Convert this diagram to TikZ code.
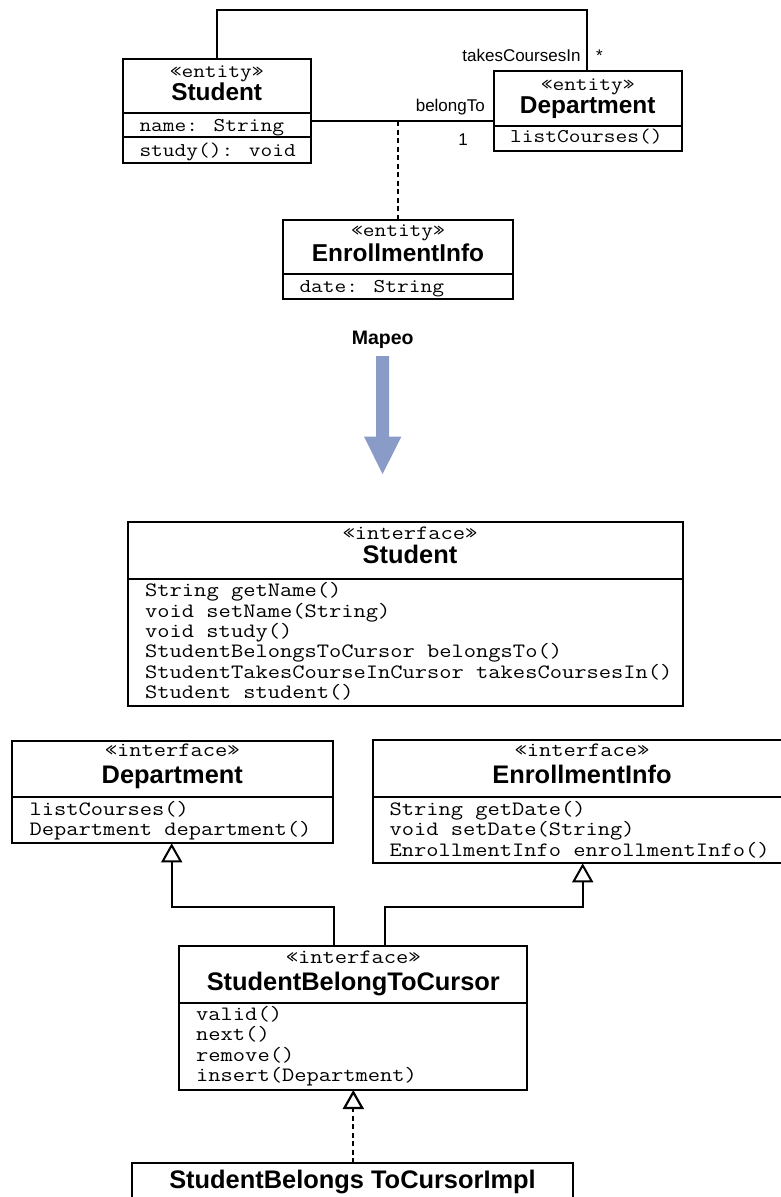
\documentclass[tikz,border=0pt]{standalone}
\usepackage{fontspec}
\setmainfont{Liberation Sans}
\newfontfamily\monof[FakeStretch=1.167]{Latin Modern Mono}
\usetikzlibrary{arrows.meta}
\definecolor{mapblue}{RGB}{137,155,198}
\begin{document}
\begin{tikzpicture}[x=1pt,y=-1pt,
  box/.style={draw, line width=2.2pt, inner sep=0pt, outer sep=0pt, anchor=north west},
  div/.style={line width=2.2pt},
  conn/.style={line width=2pt},
  dashconn/.style={line width=2.2pt, dash pattern=on 5pt off 3.5pt},
  gen/.style={conn, line join=miter, -{Triangle[fill=white, length=19pt, width=21pt]}},
  real/.style={dashconn, -{Triangle[fill=white, length=19pt, width=21pt]}},
  stE/.style={font={\monof\fontsize{19.5}{20}\selectfont}, anchor=base, inner sep=0pt},
  memE/.style={font={\monof\fontsize{19.5}{20}\selectfont}, anchor=base west, inner sep=0pt},
  titE/.style={font={\bfseries\fontsize{24.4}{26}\selectfont}, anchor=base, inner sep=0pt},
  stI/.style={font={\monof\fontsize{20.4}{21}\selectfont}, anchor=base, inner sep=0pt},
  memI/.style={font={\monof\fontsize{20.4}{21}\selectfont}, anchor=base west, inner sep=0pt},
  titI/.style={font={\bfseries\fontsize{25.4}{27}\selectfont}, anchor=base, inner sep=0pt},
  lbl/.style={font={\fontsize{17}{18}\selectfont}, inner sep=0pt}]
\useasboundingbox (0,0) rectangle (781,1197);
\clip (0,0) rectangle (781,1197);
\fill[white] (0,0) rectangle (781,1197);

% ---------- Entity model ----------
\node[box, minimum width=188pt, minimum height=104pt] (stuE) at (122.7,59.3) {};
\draw[div] (stuE.west |- 0,113.3) -- (stuE.east |- 0,113.3);
\draw[div] (stuE.west |- 0,137.3) -- (stuE.east |- 0,137.3);
\node[stE] (stuEst) at (216.7,77) {«entity»};
\node[titE] (stuEt) at (216.7,100.7) {Student};
\node[memE] (stuEa) at (139.3,131.7) {name: String};
\node[memE] (stuEm) at (139.3,156.7) {study(): void};

\node[box, minimum width=188pt, minimum height=79.7pt] (depE) at (493.7,71.3) {};
\draw[div] (depE.west |- 0,126) -- (depE.east |- 0,126);
\node[stE] (depEst) at (587.7,90) {«entity»};
\node[titE] (depEt) at (587.7,113.3) {Department};
\node[memE] (depEm) at (510,142.7) {listCourses()};

\node[box, minimum width=230.6pt, minimum height=79.3pt] (enE) at (282.7,220) {};
\draw[div] (enE.west |- 0,274) -- (enE.east |- 0,274);
\node[stE] (enEst) at (398,236.7) {«entity»};
\node[titE] (enEt) at (398,261.7) {EnrollmentInfo};
\node[memE] (enEa) at (299.3,292) {date: String};

% associations
\draw[conn] (stuE.north -| 216.7,0) -- (216.7,10) -- (587.3,10) -- (depE.north -| 587.3,0);
\draw[conn] (stuE.east |- 0,121) -- (depE.west |- 0,121);
\coordinate (assoc) at (398.3,121);
\draw[dashconn] (assoc) -- (enE.north -| assoc);
\node[lbl, anchor=base east] (lTakes) at (580.7,61.7) {takesCoursesIn};
\node[lbl, anchor=base west] (lStar) at (596,61.7) {*};
\node[lbl, anchor=base east] (lBelong) at (485,111) {belongTo};
\node[lbl, anchor=base] (lOne) at (463,145.7) {1};

% ---------- Mapping arrow ----------
\node[font={\bfseries\fontsize{19.5}{21}\selectfont}, anchor=base, inner sep=0pt] (mapeo) at (382.7,344) {Mapeo};
\fill[mapblue] (376,356) -- (389,356) -- (389,436.7) -- (401.3,436.7) -- (382.6,474)
  -- (364,436.7) -- (376,436.7) -- cycle;

% ---------- Interface Student ----------
\node[box, minimum width=555.3pt, minimum height=184pt] (stuI) at (127.7,522) {};
\draw[div] (stuI.west |- 0,578.7) -- (stuI.east |- 0,578.7);
\node[stI] (stuIst) at (410,539) {«interface»};
\node[titI] (stuIt) at (410,563) {Student};
\foreach \t [count=\i from 0] in {String getName(), void setName(String), void study(),
  StudentBelongsToCursor belongsTo(), StudentTakesCourseInCursor takesCoursesIn(), Student student()}
  \node[memI] (stuIm\i) at (145,596.7+20.4*\i) {\t};

% ---------- Interface Department ----------
\node[box, minimum width=320.7pt, minimum height=102.6pt] (dpI) at (12,740.7) {};
\draw[div] (dpI.west |- 0,796.7) -- (dpI.east |- 0,796.7);
\node[stI] (dpIst) at (172.3,756.7) {«interface»};
\node[titI] (dpIt) at (172.3,783.3) {Department};
\node[memI] (dpIm0) at (29.3,815) {listCourses()};
\node[memI] (dpIm1) at (29.3,835.3) {Department department()};

% ---------- Interface EnrollmentInfo ----------
\node[box, minimum width=418.6pt, minimum height=123.3pt] (enI) at (372.7,740) {};
\draw[div] (enI.west |- 0,796.7) -- (enI.east |- 0,796.7);
\node[stI] (enIst) at (582,756.7) {«interface»};
\node[titI] (enIt) at (582,783.3) {EnrollmentInfo};
\node[memI] (enIm0) at (389.3,815) {String getDate()};
\node[memI] (enIm1) at (389.3,835.5) {void setDate(String)};
\node[memI] (enIm2) at (389.3,856) {EnrollmentInfo enrollmentInfo()};

% ---------- Interface StudentBelongToCursor ----------
\node[box, minimum width=348pt, minimum height=144pt] (sbc) at (179.3,946) {};
\draw[div] (sbc.west |- 0,1002.7) -- (sbc.east |- 0,1002.7);
\node[stI] (sbcst) at (353.3,963.3) {«interface»};
\node[titI] (sbct) at (353.3,990) {StudentBelongToCursor};
\foreach \t [count=\i from 0] in {valid(), next(), remove(), insert(Department)}
  \node[memI] (sbcm\i) at (196,1020+20.5*\i) {\t};

% ---------- Implementation ----------
\node[box, minimum width=441.6pt, minimum height=80pt] (impl) at (131.7,1163.3) {};
\node[titI] (implt) at (352.5,1188.3) {StudentBelongs ToCursorImpl};

% ---------- Generalizations / realization ----------
\draw[gen] (sbc.north -| 334.3,0) |- (171.7,907.3) -- (dpI.south -| 171.7,0);
\draw[gen] (sbc.north -| 385,0) |- (582.7,907.3) -- (enI.south -| 582.7,0);
\draw[real] (impl.north -| 353.3,0) -- (sbc.south -| 353.3,0);
\end{tikzpicture}
\end{document}
